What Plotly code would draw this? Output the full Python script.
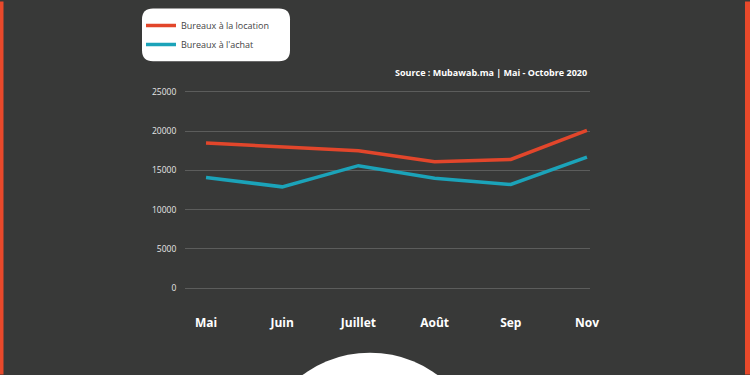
import plotly.graph_objects as go

months = ["Mai", "Juin", "Juillet", "Août", "Sep", "Nov"]
location = [18500, 18000, 17500, 16100, 16400, 20100]
achat = [14100, 12900, 15600, 14000, 13200, 16700]
y_ticks = [0, 5000, 10000, 15000, 20000, 25000]

W, H = 750, 375
L, R, T, B = 185, 590, 87, 292

def px(x):
    return (x - L) / (R - L)

def py(y):
    return (B - y) / (B - T)

BG = "#383938"
ORANGE = "#e8492b"
RED = "#e2462b"
BLUE = "#1ba3b9"

fig = go.Figure()
fig.add_trace(go.Scatter(x=list(range(len(months))), y=location, mode="lines",
                         name="Bureaux à la location",
                         line=dict(color=RED, width=3.5)))
fig.add_trace(go.Scatter(x=list(range(len(months))), y=achat, mode="lines",
                         name="Bureaux à l'achat",
                         line=dict(color=BLUE, width=3.5)))

# rounded legend box path
x0, x1, y0, y1, r = 142, 290, 7, 60, 11
def pt(x, y):
    return f"{px(x)},{py(y)}"
path = (f"M {pt(x0 + r, y0)} L {pt(x1 - r, y0)} Q {pt(x1, y0)} {pt(x1, y0 + r)} "
        f"L {pt(x1, y1 - r)} Q {pt(x1, y1)} {pt(x1 - r, y1)} "
        f"L {pt(x0 + r, y1)} Q {pt(x0, y1)} {pt(x0, y1 - r)} "
        f"L {pt(x0, y0 + r)} Q {pt(x0, y0)} {pt(x0 + r, y0)} Z")

shapes = [
    dict(type="path", path=path, xref="paper", yref="paper",
         fillcolor="white", line=dict(width=0), layer="below"),
    dict(type="rect", xref="paper", yref="paper", x0=px(0), x1=px(3.5), y0=py(0), y1=py(H),
         fillcolor=ORANGE, line=dict(width=0), layer="above"),
    dict(type="rect", xref="paper", yref="paper", x0=px(745), x1=px(W), y0=py(0), y1=py(H),
         fillcolor=ORANGE, line=dict(width=0), layer="above"),
    dict(type="circle", xref="paper", yref="paper", x0=px(370 - 113), x1=px(370 + 113),
         y0=py(353), y1=py(353 + 226),
         fillcolor="white", line=dict(width=0), layer="above"),
]

fig.update_layout(
    width=W, height=H,
    margin=dict(l=L, r=W - R, t=T, b=H - B),
    paper_bgcolor=BG, plot_bgcolor=BG,
    font=dict(family="Open Sans", color="white"),
    showlegend=True,
    legend=dict(x=px(141), y=py(11), xanchor="left", yanchor="top",
                bgcolor="rgba(0,0,0,0)", font=dict(size=9, color="#444444"),
                itemwidth=30, tracegroupgap=0),
    shapes=shapes,
    annotations=[dict(text="<b>Source : Mubawab.ma | Mai - Octobre 2020</b>",
                      xref="paper", yref="paper", x=px(589), y=py(71),
                      xanchor="right", yanchor="middle", showarrow=False,
                      font=dict(size=9, color="white", family="Open Sans"))],
    xaxis=dict(tickmode="array", tickvals=list(range(len(months))),
               ticktext=[f"<b>{m}</b>" for m in months],
               range=[-0.276, 5.04], showgrid=False, zeroline=False, showline=False,
               ticks="outside", ticklen=20, tickcolor="rgba(0,0,0,0)",
               tickfont=dict(size=12, color="white", family="Open Sans")),
    yaxis=dict(range=[-500, 25500], tickmode="array", tickvals=y_ticks,
               ticktext=[str(v) for v in y_ticks], showgrid=True,
               gridcolor="#5c5d5c", gridwidth=1.3, zeroline=False, showline=False,
               ticks="outside", ticklen=6, tickcolor="rgba(0,0,0,0)",
               tickfont=dict(size=8.5, color="#e6e6e6", family="Open Sans")),
)

fig.write_html("out.html", config={"displayModeBar": False},
               post_script="document.body.style.margin='0';")
